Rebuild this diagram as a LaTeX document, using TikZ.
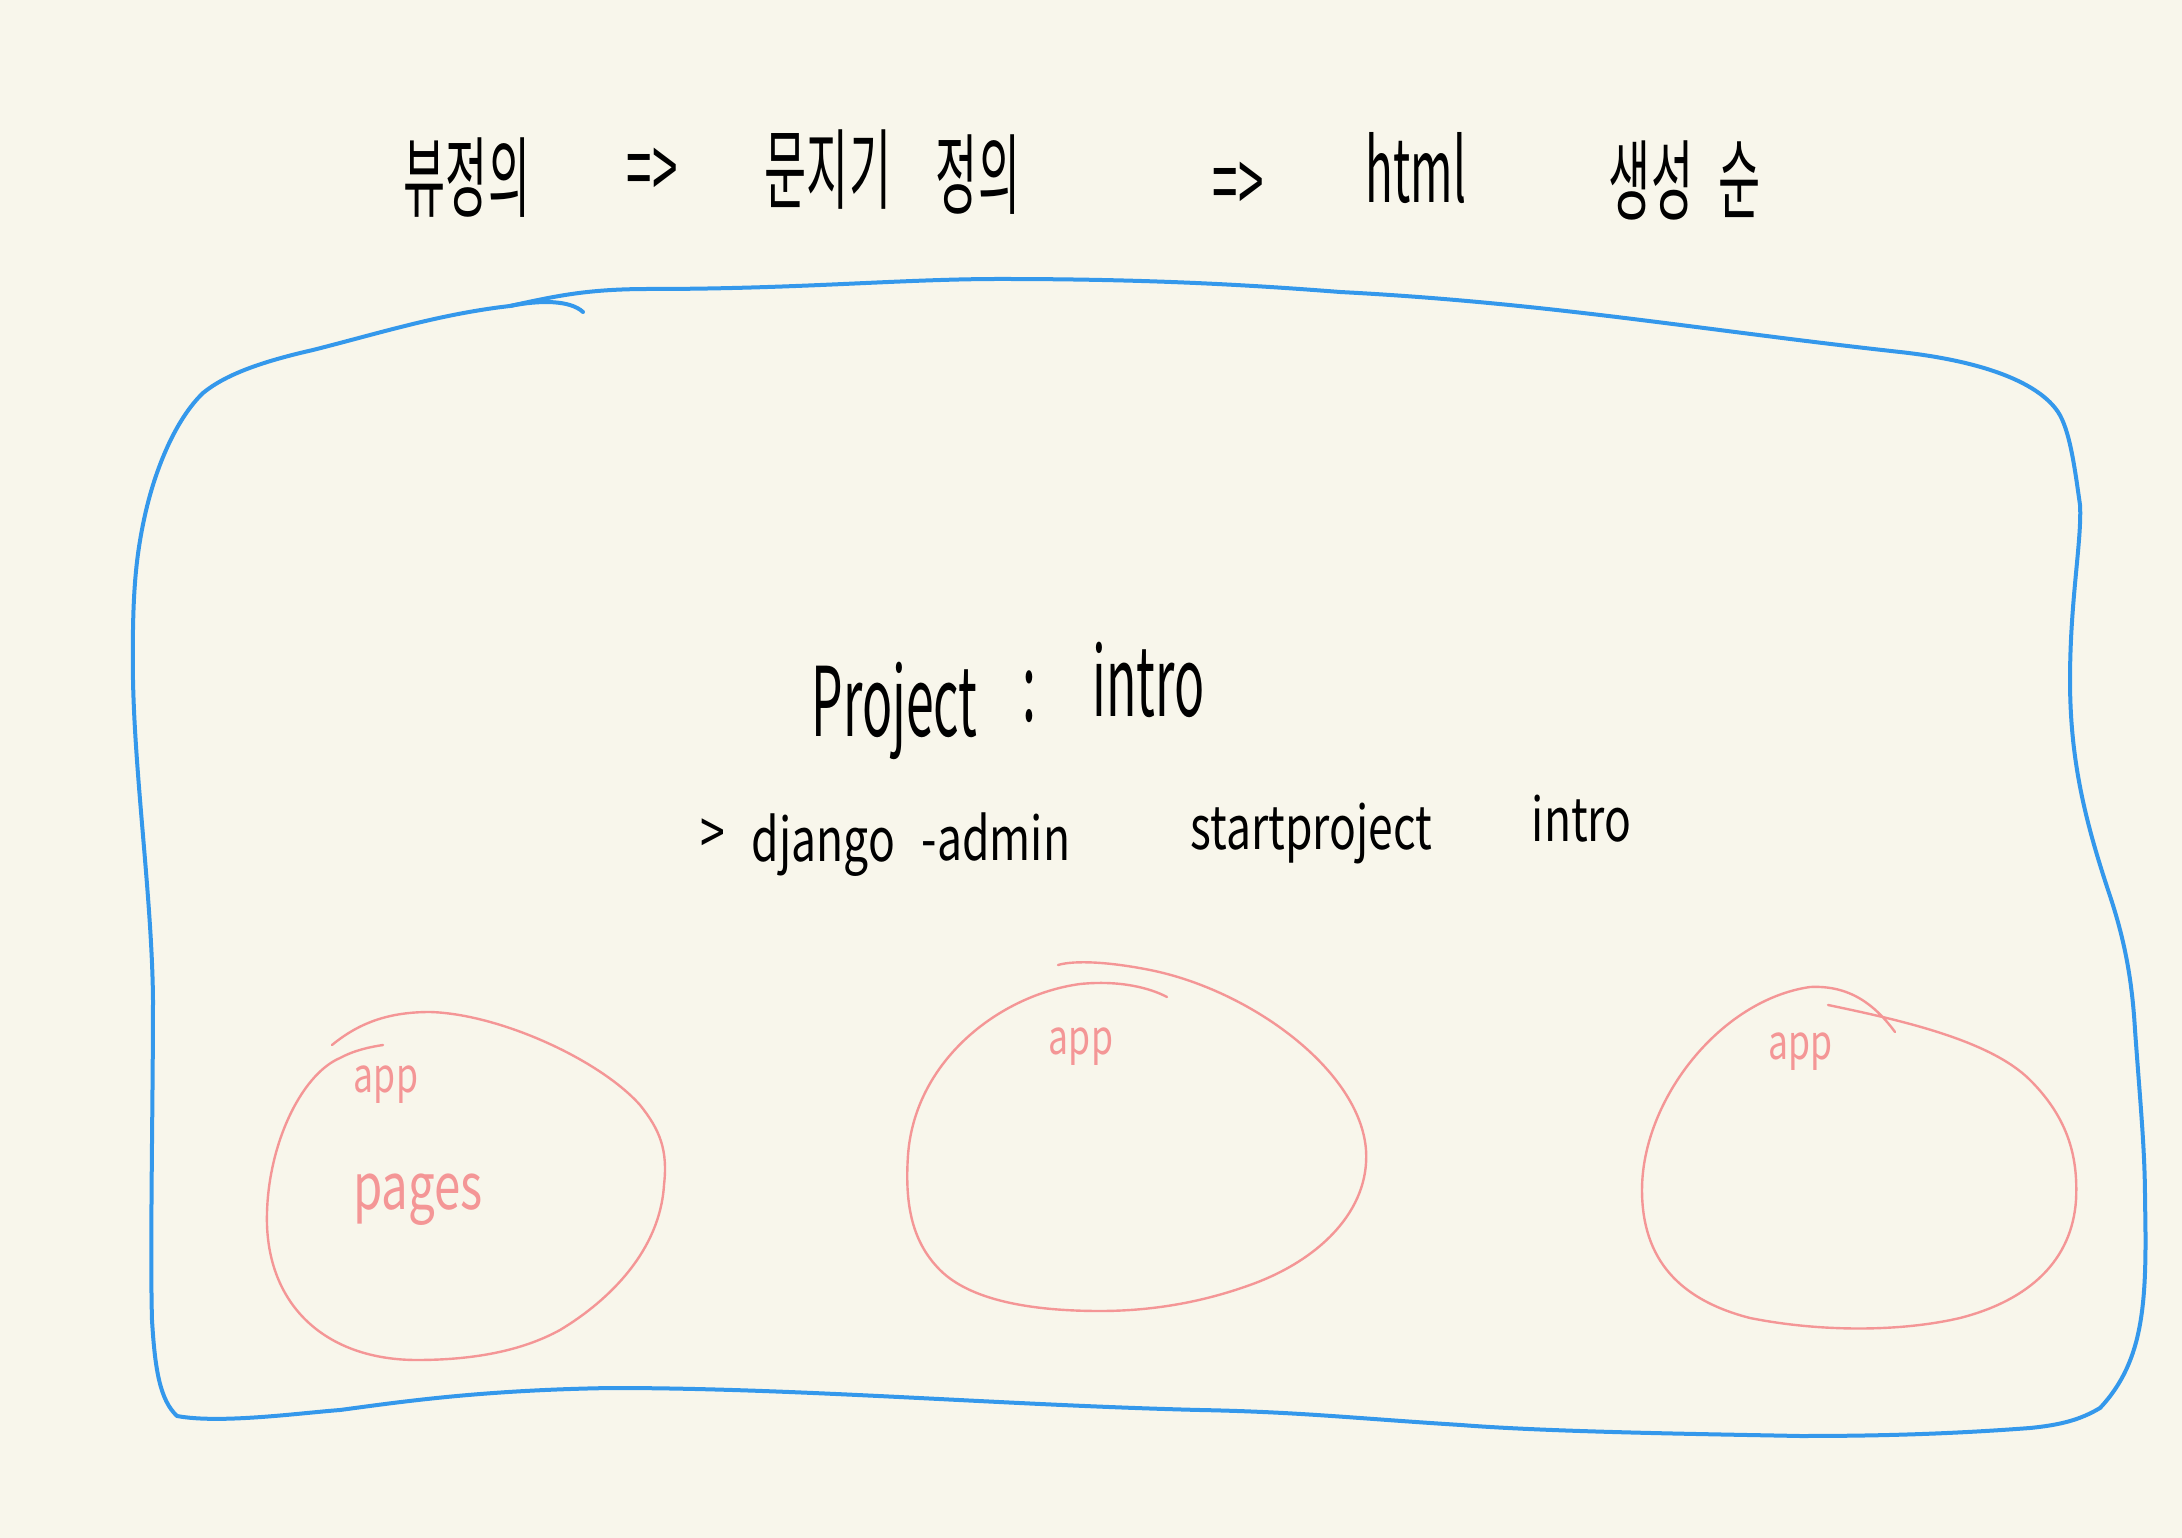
\documentclass[tikz,border=0pt]{standalone}
\usepackage{fontspec}
\usepackage{tikz}
\usetikzlibrary{positioning}
\newfontfamily\handnarrow[FakeStretch=0.52]{Noto Sans CJK KR}
\newfontfamily\handwide[FakeStretch=0.74]{Noto Sans CJK KR}
\definecolor{paper}{RGB}{248,246,235}
\definecolor{penblue}{RGB}{52,152,235}
\definecolor{penpink}{RGB}{244,150,150}

\begin{document}
\begin{tikzpicture}[x=0.25pt,y=0.25pt,yscale=-1,
  boxline/.style={draw=penblue,line width=1pt,line cap=round,line join=round},
  appline/.style={draw=penpink,line width=0.6pt,line cap=round,line join=round},
  titletext/.style={inner sep=0pt,font=\handnarrow\fontsize{22}{26}\selectfont},
  projtext/.style={inner sep=0pt,anchor=base west,font=\handnarrow\fontsize{24}{28}\selectfont},
  cmdtext/.style={inner sep=0pt,anchor=base west,font=\handwide\fontsize{15}{18}\selectfont},
  apptext/.style={inner sep=0pt,text=penpink,font=\handwide\fontsize{12}{14}\selectfont}]
%set diagram size: 2182 x 1538
\useasboundingbox (0,0) rectangle (2182,1538);
\fill[paper] (0,0) rectangle (2182,1538);

%Shape: project box
\draw[boxline] (510,306) .. controls (560,295) and (590,289) .. (650,289)
 .. controls (800,289) and (900,279) .. (1000,279)
 .. controls (1150,279) and (1250,285) .. (1340,292)
 .. controls (1550,303) and (1700,330) .. (1900,352)
 .. controls (1990,362) and (2040,385) .. (2058,412)
 .. controls (2070,430) and (2075,470) .. (2080,505)
 .. controls (2082,540) and (2070,600) .. (2070,680)
 .. controls (2070,760) and (2085,820) .. (2108,890)
 .. controls (2125,940) and (2132,980) .. (2135,1030)
 .. controls (2140,1100) and (2145,1150) .. (2145,1200)
 .. controls (2147,1300) and (2145,1360) .. (2100,1408)
 .. controls (2080,1420) and (2060,1425) .. (2030,1428)
 .. controls (1950,1434) and (1880,1436) .. (1800,1436)
 .. controls (1700,1434) and (1550,1432) .. (1461,1425)
 .. controls (1350,1418) and (1300,1412) .. (1200,1410)
 .. controls (1000,1405) and (800,1388) .. (612,1388)
 .. controls (480,1390) and (400,1402) .. (340,1410)
 .. controls (300,1413) and (220,1424) .. (177,1416)
 .. controls (160,1400) and (155,1370) .. (152,1320)
 .. controls (150,1250) and (153,1100) .. (153,1000)
 .. controls (152,900) and (135,780) .. (133,680)
 .. controls (132,600) and (135,560) .. (145,515)
 .. controls (155,470) and (175,420) .. (203,393)
 .. controls (225,375) and (260,362) .. (313,350)
 .. controls (380,333) and (440,314) .. (510,306) -- cycle;
%Curve Lines: pen hook
\draw[boxline] (510,306) .. controls (540,300) and (570,300) .. (583,312);

%Curve Lines: app 1
\draw[appline] (332,1045) .. controls (360,1022) and (390,1012) .. (430,1012)
 .. controls (500,1014) and (600,1060) .. (640,1105)
 .. controls (660,1130) and (668,1150) .. (664,1185)
 .. controls (660,1250) and (610,1300) .. (560,1330)
 .. controls (520,1352) and (470,1360) .. (417,1360)
 .. controls (330,1360) and (270,1310) .. (267,1225)
 .. controls (265,1150) and (300,1075) .. (340,1058)
 .. controls (355,1050) and (370,1047) .. (383,1045);

%Curve Lines: app 2
\draw[appline] (1058,965) .. controls (1075,960) and (1110,962) .. (1150,970)
 .. controls (1250,990) and (1360,1070) .. (1366,1150)
 .. controls (1370,1210) and (1320,1260) .. (1250,1285)
 .. controls (1200,1303) and (1150,1311) .. (1100,1311)
 .. controls (1030,1311) and (970,1300) .. (940,1270)
 .. controls (910,1240) and (905,1200) .. (908,1155)
 .. controls (915,1060) and (1000,995) .. (1080,984)
 .. controls (1120,980) and (1150,988) .. (1167,997);

%Curve Lines: app 3
\draw[appline] (1828,1005) .. controls (1900,1020) and (1990,1040) .. (2030,1080)
 .. controls (2070,1120) and (2078,1160) .. (2076,1200)
 .. controls (2072,1260) and (2030,1300) .. (1960,1318)
 .. controls (1900,1332) and (1820,1332) .. (1750,1318)
 .. controls (1680,1300) and (1642,1260) .. (1642,1190)
 .. controls (1642,1100) and (1720,1000) .. (1810,987)
 .. controls (1850,985) and (1875,1005) .. (1895,1032);

% Text Node: title
\node[titletext] (view) at (467,178) {뷰정의};
\node[titletext] (arrowA) at (652,174) {=>};
\node[titletext] (gate) at (828,170) {문지기};
\node[titletext] (define) at (978,175) {정의};
\node[titletext] (arrowB) at (1238,188) {=>};
\node[titletext] (html) at (1416,168) {html};
\node[titletext] (make) at (1651,180) {생성};
\node[titletext] (order) at (1740,180) {순};

% Text Node: project
\node[projtext] (proj) at (811,737) {Project};
\node[projtext] (colon) at (1022,722) {:};
\node[projtext] (projname) at (1092,717) {intro};

% Text Node: command
\node[cmdtext] (prompt) at (700,855) {>};
\node[cmdtext] (cmd) at (751,862) {django};
\node[cmdtext] (cmdadmin) at (921,860) {-admin};
\node[cmdtext] (startp) at (1190,850) {startproject};
\node[cmdtext] (cmdname) at (1531,842) {intro};

% Text Node: apps
\node[apptext] (appA) at (386,1085) {app};
\node[apptext] (appB) at (1081,1047) {app};
\node[apptext] (appC) at (1800,1052) {app};
\node[apptext,font=\handwide\fontsize{16}{19}\selectfont] (pages) at (418,1200) {pages};

\end{tikzpicture}
\end{document}
